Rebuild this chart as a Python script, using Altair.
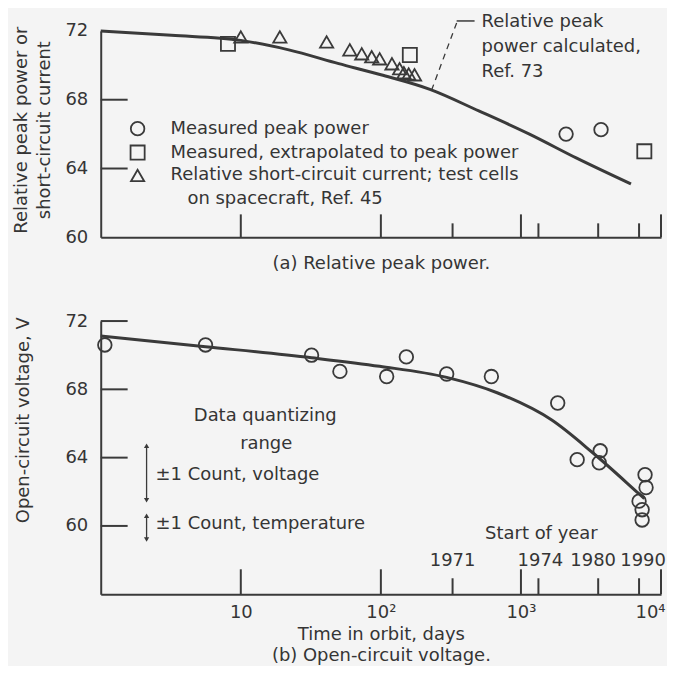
import altair as alt
import pandas as pd

# ---------------- data ----------------
# (a) relative peak power
top_curve_days = [1, 3.2, 10, 22, 50, 100, 224, 500, 1150, 2500, 6100]
top_curve_vals = [72.0, 71.75, 71.45, 70.9, 70.1, 69.45, 68.6, 67.35, 66.0, 64.6, 63.1]

peak_days = [2100, 3730]
peak_vals = [66.0, 66.26]

extrap_days = [8.1, 161, 7600]
extrap_vals = [71.25, 70.6, 65.0]

isc_days = [10, 19, 41, 60, 73, 86, 98, 120, 136, 146, 158, 174]
isc_vals = [71.65, 71.65, 71.36, 70.9, 70.67, 70.5, 70.38, 70.09, 69.8, 69.57, 69.5, 69.45]

# (b) open-circuit voltage
voc_curve_days = [1, 5.6, 32, 98, 295, 676, 1660, 3240, 6920, 7600]
voc_curve_vals = [71.12, 70.5, 69.85, 69.35, 68.7, 67.8, 66.2, 64.3, 61.9, 61.6]

voc_days = [1.07, 5.6, 32, 51, 110, 152, 295, 615, 1830, 2520, 3680, 3620,
            7690, 7820, 6970, 7330, 7330]
voc_vals = [70.6, 70.6, 70.0, 69.05, 68.75, 69.9, 68.9, 68.75, 67.2, 63.88, 64.4, 63.7,
            63.0, 62.25, 61.45, 60.95, 60.35]

# axes
decade_ticks = [10, 100, 1000, 10000]
decade_labels = ["10", "10\u00b2", "10\u00b3", "10\u2074"]
year_labels = ["1971", "1974", "1980", "1990"]
year_days = [325, 1333, 3560, 6970]
top_y_ticks = [64, 68]
bottom_y_ticks = [60, 64, 68, 72]

# quantizing ranges (V)
voltage_range = [64.7, 61.5]
temperature_range = [60.6, 59.2]

legend_labels = ["Measured peak power",
                 "Measured, extrapolated to peak power",
                 "Relative short-circuit current; test cells",
                 "on spacecraft, Ref. 45"]
calc_labels = ["Relative peak", "power calculated,", "Ref. 73"]

# ---------------- styling ----------------
FONT = "DejaVu Sans"
FS = 18
INK = "#353535"
LINE = "#3a3a3a"
BG = "#f4f4f4"
W = 562
H_TOP = 207
H_BOT = 274
MSIZE = 185
MSW = 1.8
YEAR_DX = [0, 2, -5, 4]

xscale = alt.Scale(type="log", domain=[1, 10000])

label_expr = ("datum.value == 10 ? '" + decade_labels[0] + "' : datum.value == 100 ? '"
              + decade_labels[1] + "' : datum.value == 1000 ? '" + decade_labels[2]
              + "' : '" + decade_labels[3] + "'")


def df(**cols):
    return pd.DataFrame(cols)


def text_at(s, x, y, align="left"):
    return alt.Chart(df(t=[s])).mark_text(
        font=FONT, fontSize=FS, color=INK, align=align, baseline="middle"
    ).encode(text="t:N", x=alt.value(x), y=alt.value(y))


# ---------------- top panel ----------------
ytop = alt.Scale(domain=[60, 72], zero=False, nice=False)

top_x_axis = alt.Axis(values=decade_ticks, labels=False, ticks=False, tickSize=0, grid=False,
                      domainColor=LINE, domainWidth=2,
                      title="(a) Relative peak power.", titleFont=FONT, titleFontSize=FS,
                      titleFontWeight="normal", titleColor=INK,
                      titleY=26, titleBaseline="middle")
top_y_axis = alt.Axis(values=[60, 64, 68, 72], ticks=False, tickSize=0, grid=False,
                      domainColor=LINE, domainWidth=2,
                      labelFont=FONT, labelFontSize=FS, labelColor=INK, labelPadding=13,
                      title=["Relative peak power or", "short-circuit current"],
                      titleFont=FONT, titleFontSize=FS, titleFontWeight="normal", titleColor=INK,
                      titleAngle=270, titleBaseline="top", titleAlign="center",
                      titleX=-88, titleY=99, titleLineHeight=23)

top_curve = alt.Chart(df(d=top_curve_days, v=top_curve_vals)).mark_line(
    color=LINE, strokeWidth=3, interpolate="monotone"
).encode(
    x=alt.X("d:Q", scale=xscale, axis=top_x_axis),
    y=alt.Y("v:Q", scale=ytop, axis=top_y_axis),
)


def pts(days, vals, shape, size=MSIZE):
    return alt.Chart(df(d=days, v=vals)).mark_point(
        shape=shape, size=size, filled=False, color=LINE, strokeWidth=MSW, opacity=1
    ).encode(x=alt.X("d:Q", scale=xscale), y=alt.Y("v:Q", scale=ytop))


top_circles = pts(peak_days, peak_vals, "circle")
top_squares = pts(extrap_days, extrap_vals, "square", 200)
top_tris = pts(isc_days, isc_vals, "triangle-up", 175)

top_dec_ticks = alt.Chart(df(d=decade_ticks)).mark_rule(color=LINE, strokeWidth=2).encode(
    x=alt.X("d:Q", scale=xscale), y=alt.value(H_TOP), y2=alt.value(H_TOP - 23))
top_year_ticks = alt.Chart(df(d=year_days)).mark_rule(color=LINE, strokeWidth=2).encode(
    x=alt.X("d:Q", scale=xscale), y=alt.value(H_TOP), y2=alt.value(H_TOP - 14))
top_y_tick_marks = alt.Chart(df(v=top_y_ticks)).mark_rule(color=LINE, strokeWidth=2).encode(
    y=alt.Y("v:Q", scale=ytop), x=alt.value(0), x2=alt.value(27))

leg_syms = []
for shape, yy, sz in [("circle", 98, MSIZE), ("square", 122, 200), ("triangle-up", 145, 175)]:
    leg_syms.append(
        alt.Chart(df(a=[0])).mark_point(shape=shape, size=sz, filled=False, color=LINE,
                                        strokeWidth=MSW, opacity=1)
        .encode(x=alt.value(37), y=alt.value(yy)))
leg_texts = [text_at(legend_labels[0], 70, 98), text_at(legend_labels[1], 70, 122),
             text_at(legend_labels[2], 70, 145), text_at(legend_labels[3], 87, 169)]

calc_texts = [text_at(calc_labels[0], 382, -9), text_at(calc_labels[1], 382, 16),
              text_at(calc_labels[2], 382, 41)]
leader_solid = alt.Chart(df(a=[0])).mark_rule(color=LINE, strokeWidth=1.5).encode(
    x=alt.value(357), x2=alt.value(375), y=alt.value(-10))
leader_dash = alt.Chart(df(a=[0])).mark_rule(color=LINE, strokeWidth=1.3, strokeDash=[6, 5]).encode(
    x=alt.value(357), y=alt.value(-8), x2=alt.value(332), y2=alt.value(59))

top = alt.layer(
    top_curve, top_dec_ticks, top_year_ticks, top_y_tick_marks,
    top_circles, top_squares, top_tris,
    *leg_syms, *leg_texts, *calc_texts, leader_solid, leader_dash
).properties(width=W, height=H_TOP)

# ---------------- bottom panel ----------------
ybot = alt.Scale(domain=[56, 72], zero=False, nice=False)

bot_x_axis = alt.Axis(values=decade_ticks, labelExpr=label_expr, ticks=False, tickSize=0,
                      grid=False, domainColor=LINE, domainWidth=2,
                      labelFont=FONT, labelFontSize=FS, labelColor=INK, labelPadding=9,
                      labelFlush=True, labelFlushOffset=4,
                      title=["Time in orbit, days", "(b) Open-circuit voltage."],
                      titleFont=FONT, titleFontSize=FS, titleFontWeight="normal", titleColor=INK,
                      titleY=40, titleBaseline="middle", titleLineHeight=21)
bot_y_axis = alt.Axis(values=bottom_y_ticks, ticks=False, tickSize=0, grid=False,
                      domainColor=LINE, domainWidth=2,
                      labelFont=FONT, labelFontSize=FS, labelColor=INK, labelPadding=13,
                      title="Open-circuit voltage, V",
                      titleFont=FONT, titleFontSize=FS, titleFontWeight="normal", titleColor=INK,
                      titleAngle=270, titleBaseline="top", titleAlign="center",
                      titleX=-86, titleY=99)

voc_curve = alt.Chart(df(d=voc_curve_days, v=voc_curve_vals)).mark_line(
    color=LINE, strokeWidth=3, interpolate="monotone"
).encode(
    x=alt.X("d:Q", scale=xscale, axis=bot_x_axis),
    y=alt.Y("v:Q", scale=ybot, axis=bot_y_axis),
)
voc_pts = alt.Chart(df(d=voc_days, v=voc_vals)).mark_point(
    shape="circle", size=MSIZE, filled=False, color=LINE, strokeWidth=MSW, opacity=1
).encode(x=alt.X("d:Q", scale=xscale), y=alt.Y("v:Q", scale=ybot))

bot_dec_ticks = alt.Chart(df(d=decade_ticks)).mark_rule(color=LINE, strokeWidth=2).encode(
    x=alt.X("d:Q", scale=xscale), y=alt.value(H_BOT), y2=alt.value(H_BOT - 25))
bot_year_ticks = alt.Chart(df(d=year_days)).mark_rule(color=LINE, strokeWidth=2).encode(
    x=alt.X("d:Q", scale=xscale), y=alt.value(H_BOT), y2=alt.value(H_BOT - 16))
bot_y_tick_marks = alt.Chart(df(v=bottom_y_ticks)).mark_rule(color=LINE, strokeWidth=2).encode(
    y=alt.Y("v:Q", scale=ybot), x=alt.value(0), x2=alt.value(27))

year_texts = []
for lab, day, dx in zip(year_labels, year_days, YEAR_DX):
    year_texts.append(
        alt.Chart(df(d=[day], t=[lab])).mark_text(
            font=FONT, fontSize=FS, color=INK, align="center", baseline="middle", dx=dx
        ).encode(x=alt.X("d:Q", scale=xscale), y=alt.value(241), text="t:N"))
start_text = text_at("Start of year", 442, 214, align="center")

quant_texts = [text_at("Data quantizing", 165, 95, align="center"),
               text_at("range", 166, 123, align="center"),
               text_at("\u00b11 Count, voltage", 55, 154),
               text_at("\u00b11 Count, temperature", 55, 204)]


def arrow(rng):
    shaft = alt.Chart(df(a=[rng[0]], b=[rng[1]])).mark_rule(color=LINE, strokeWidth=1.3).encode(
        x=alt.value(46), y=alt.Y("a:Q", scale=ybot), y2="b:Q")
    up = alt.Chart(df(v=[rng[0]])).mark_point(shape="triangle-up", size=28, filled=True,
                                              color=LINE, opacity=1).encode(
        x=alt.value(46), y=alt.Y("v:Q", scale=ybot))
    down = alt.Chart(df(v=[rng[1]])).mark_point(shape="triangle-down", size=28, filled=True,
                                                color=LINE, opacity=1).encode(
        x=alt.value(46), y=alt.Y("v:Q", scale=ybot))
    return [shaft, up, down]


bottom = alt.layer(
    voc_curve, bot_dec_ticks, bot_year_ticks, bot_y_tick_marks, voc_pts,
    *year_texts, start_text, *quant_texts, *arrow(voltage_range), *arrow(temperature_range)
).properties(width=W, height=H_BOT)

chart = alt.vconcat(top, bottom, spacing=38).properties(
    padding={"left": 4, "top": 3, "right": 0, "bottom": 0}
).configure(background=BG).configure_view(stroke="transparent")

chart.save("out.html", embed_options={"renderer": "svg", "actions": False})
